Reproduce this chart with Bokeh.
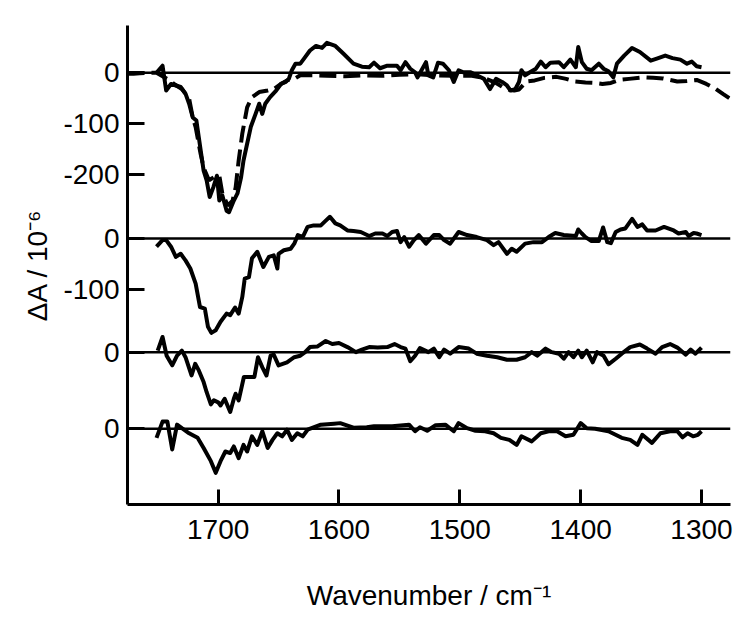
from bokeh.plotting import figure
from bokeh.models import Range1d, FixedTicker, Span
from bokeh.embed import file_html
from bokeh.resources import INLINE

# ---------------- data ----------------
# Trace A (top, solid)
wn_a = [1751, 1746, 1743, 1739, 1735, 1731, 1727, 1724, 1721, 1718, 1716, 1714, 1712, 1709.5,
        1707, 1704, 1701, 1699, 1696.5, 1693, 1691, 1687, 1684, 1681, 1679, 1676, 1673, 1669,
        1666, 1663.5, 1661, 1657, 1652, 1648, 1644, 1641.5, 1639, 1636, 1632, 1628, 1624, 1619,
        1614, 1610, 1603, 1596, 1588, 1581, 1575, 1571, 1566, 1560, 1552, 1549, 1545, 1541,
        1537, 1535, 1528, 1526, 1522, 1518, 1514, 1509, 1505, 1501, 1497, 1491, 1486, 1480,
        1475, 1470, 1465, 1461, 1458, 1454, 1451, 1449, 1446, 1442, 1437, 1433, 1429, 1425,
        1418, 1414, 1408.5, 1404, 1402, 1399, 1395, 1391, 1385, 1381, 1377, 1373, 1370, 1364,
        1357.5, 1351, 1342, 1337, 1330, 1324, 1317.5, 1312, 1308, 1304, 1300]
dA_a = [0, 14, -35, -22, -25, -28, -41, -61, -88, -94, -127, -160, -193, -212,
        -245, -226, -203, -252, -242, -272, -275, -252, -238, -206, -173, -140, -107, -81,
        -61, -81, -61, -48, -35, -22, -18, -12, 5, 18, 18, 31, 44, 53,
        49, 59, 53, 37, 18, 12, 11, 20, 9, 14, 14, 5, 21, 8,
        1, -9, 21, -5, -9, 20, 18, 5, -18, 5, 1, 1, -5, -12,
        -32, -12, -18, -25, -35, -32, -18, 5, -5, 1, 8, 22, 11, 20,
        21, 11, 26, 11, 51, 21, 8, 5, 18, 8, 3, -9, 18, 34,
        49, 41, 24, 28, 34, 29, 26, 18, 22, 13, 11]

# Trace A' (top, dashed)
wn_a2 = [1775, 1770, 1765, 1760, 1751, 1742, 1736.5, 1730, 1724, 1721, 1718.6, 1714.5, 1712,
         1707.6, 1703.5, 1699, 1696.5, 1692, 1688, 1685.5, 1683, 1680, 1676, 1672, 1666, 1659,
         1654, 1648, 1643, 1637, 1632, 1621, 1610, 1595, 1580, 1565, 1550, 1535, 1520, 1505,
         1490, 1480, 1470, 1462, 1455, 1451, 1445, 1438, 1430, 1420, 1412, 1405, 1396, 1388,
         1382, 1375, 1368, 1360, 1348, 1340, 1332, 1320, 1312, 1304, 1296, 1288, 1282, 1277]
dA_a2 = [-2, -2, -1, 0, 0, -12, -22, -32, -51, -88, -107, -160, -187,
         -212, -206, -203, -238, -262, -252, -226, -173, -120, -68, -48, -38, -35,
         -32, -22, -15, -12, -5, -5, -6, -7, -5, -6, -4, -3, -5, -6,
         -6, -10, -20, -32, -35, -33, -17, -15, -10, -8, -12, -17, -19, -20,
         -22, -20, -14, -12, -9, -10, -11, -17, -16, -14, -22, -32, -42, -50]

# Trace B
wn_b = [1751, 1746, 1743, 1739, 1735, 1731, 1727, 1723, 1718.6, 1715, 1711, 1708.4, 1705.6, 1702,
        1698, 1693, 1690, 1686, 1683, 1680, 1678, 1674.5, 1672, 1667.6, 1662.6, 1658, 1654, 1651,
        1650, 1645.6, 1640, 1637, 1634, 1630, 1626, 1621, 1615, 1612, 1607.5, 1603, 1599, 1593,
        1588, 1582, 1575, 1570, 1564, 1560, 1556, 1552, 1549, 1546, 1542, 1538, 1534, 1528,
        1521.5, 1517, 1513, 1508, 1501, 1494, 1486, 1477.5, 1472, 1468, 1461, 1457, 1453, 1446,
        1439, 1432, 1426.5, 1421, 1414, 1404, 1402, 1399, 1396, 1391, 1385, 1381.4, 1378, 1375,
        1371, 1367, 1363, 1357.4, 1353, 1349, 1345, 1338, 1331, 1323, 1319, 1313, 1310.6, 1306.5,
        1304, 1300]
dA_b = [-16, -3, -3, -16, -36, -30, -43, -59, -89, -135, -138, -174, -186, -181,
        -164, -148, -151, -136, -148, -115, -79, -76, -39, -26, -56, -36, -33, -59,
        -30, -23, -20, -10, 7, 3, 23, 26, 26, 33, 43, 30, 26, 16,
        15, 13, 5, 10, 10, 5, 13, 15, -7, 3, -16, -3, 7, -10,
        7, 7, -3, -10, 13, 7, 3, -3, -13, -7, -30, -20, -26, -10,
        -7, -7, 3, 11, 7, 5, 18, 10, 3, -5, -5, 22, -7, -9,
        13, 18, 20, 39, 23, 28, 16, 16, 23, 16, 10, 13, 5, 11,
        10, 7]

# Trace C
wn_c = [1750, 1746, 1742.6, 1738, 1734, 1730, 1727, 1722, 1719, 1716, 1712, 1709.5, 1706, 1703.5,
        1700, 1698, 1694.6, 1690, 1687, 1685.5, 1683, 1678.7, 1674.5, 1670, 1667, 1663.4, 1660,
        1656.6, 1654, 1650, 1643, 1637, 1632, 1628, 1624, 1618, 1611, 1605.5, 1600, 1593, 1586,
        1581, 1575, 1568, 1560, 1554, 1549, 1545, 1541, 1537, 1533, 1526, 1521.5, 1517, 1513,
        1508, 1501, 1492.6, 1486, 1477.5, 1469, 1461, 1453, 1446, 1440.5, 1436, 1429, 1424, 1418,
        1414, 1410, 1406, 1402, 1399, 1395, 1390, 1386.4, 1381, 1377, 1371, 1366, 1359, 1351,
        1345, 1338, 1332.6, 1326, 1320, 1313, 1309, 1305, 1300]
dA_c = [3, 30, -7, -26, -7, 3, -10, -46, -23, -36, -59, -79, -103, -95,
        -99, -105, -92, -118, -92, -82, -95, -49, -49, -49, -10, -30, -46,
        -7, -5, -26, -20, -10, -7, 0, 10, 11, 22, 16, 18, 10, 0,
        5, 10, 9, 10, 16, 10, 7, -18, -7, 8, 0, 7, -10, 5,
        -3, 10, 7, -3, -7, -10, -15, -15, -10, 0, -7, 7, 0, -3,
        -13, 0, -10, 3, -10, 3, -20, 0, -7, -24, -13, -3, 10, 15,
        7, -3, 10, 16, 9, -5, 5, -3, 9]

# Trace D (bottom)
wn_d = [1751, 1746, 1742, 1738, 1734, 1730, 1724, 1717, 1712, 1706, 1702, 1698, 1694, 1690,
        1687, 1683, 1679, 1676, 1672, 1667.6, 1663.4, 1659, 1655, 1651, 1647, 1643, 1639, 1634.5,
        1630, 1626, 1615, 1604, 1599, 1588, 1577, 1571, 1556, 1542, 1537, 1533, 1527, 1520,
        1512, 1505, 1501, 1494, 1487, 1479, 1472, 1466, 1459, 1453, 1449, 1440.5, 1433, 1426.5,
        1419.5, 1412.5, 1406, 1400, 1395, 1388, 1377, 1366, 1359, 1353, 1349, 1341, 1334, 1326,
        1320, 1315.6, 1311.5, 1307, 1303, 1300]
dA_d = [-18, 14, 14, -41, 8, 1, -9, -18, -38, -64, -87, -64, -45, -48,
        -35, -58, -32, -45, -15, -32, -5, -38, -22, -9, -15, -2, -22, -9,
        -15, -2, 8, 10, 11, 2, 3, 5, 5, 8, -5, 3, -4, 7,
        8, -5, 11, 1, -4, -5, -9, -18, -22, -32, -15, -25, -9, -5,
        -5, -15, -12, 11, 1, 0, -5, -18, -22, -32, -12, -28, -9, -5,
        -5, -17, -9, -15, -12, -5]

Y_TICK_VALUES = [0, -100, -200, 0, -100, 0, 0]
Y_TICK_TRACE = [0, 0, 0, 1, 1, 2, 3]
X_TICKS = [1700, 1600, 1500, 1400, 1300]
X_TITLE = "Wavenumber / cm\u207b\u00b9"
Y_TITLE = "\u0394A / 10\u207b\u2076"

# ---------------- layout ----------------
OFFSETS = [0, -327, -551, -702]
FONT = "Liberation Sans"

p = figure(width=745, height=622, output_backend="svg", toolbar_location=None,
           x_range=Range1d(1775, 1276), y_range=Range1d(-851.5, 93.3),
           min_border_left=127, min_border_right=15, min_border_top=25, min_border_bottom=118)
p.outline_line_color = None
p.grid.visible = False
p.background_fill_color = "white"
p.border_fill_color = "white"

for off in OFFSETS:
    p.add_layout(Span(location=off, dimension="width", line_color="black", line_width=2.5))

def shift(vals, off):
    return [v + off for v in vals]

LW = 4
p.line(wn_a, shift(dA_a, OFFSETS[0]), line_color="black", line_width=LW, line_join="round")
p.line(wn_a2, shift(dA_a2, OFFSETS[0]), line_color="black", line_width=LW, line_dash="17 7")
p.line(wn_b, shift(dA_b, OFFSETS[1]), line_color="black", line_width=LW, line_join="round")
p.line(wn_c, shift(dA_c, OFFSETS[2]), line_color="black", line_width=LW, line_join="round")
p.line(wn_d, shift(dA_d, OFFSETS[3]), line_color="black", line_width=LW, line_join="round")

# axes
yt = [v + OFFSETS[t] for v, t in zip(Y_TICK_VALUES, Y_TICK_TRACE)]
p.yaxis.ticker = FixedTicker(ticks=yt, minor_ticks=[])
p.yaxis.major_label_overrides = {float(t): str(v) for t, v in zip(yt, Y_TICK_VALUES)}
p.xaxis.ticker = FixedTicker(ticks=X_TICKS, minor_ticks=[])

for ax in (p.xaxis, p.yaxis):
    ax.axis_line_width = 3
    ax.axis_line_color = "black"
    ax.major_tick_line_width = 3
    ax.major_tick_line_color = "black"
    ax.major_tick_out = 0
    ax.minor_tick_line_color = None
    ax.major_label_text_font = FONT
    ax.major_label_text_font_size = "28px"
    ax.major_label_text_color = "black"
    ax.axis_label_text_font = FONT
    ax.axis_label_text_font_size = "28px"
    ax.axis_label_text_font_style = "normal"
    ax.axis_label_text_color = "black"
p.yaxis.major_tick_in = 17
p.yaxis.major_label_standoff = 8
p.xaxis.major_tick_in = 15
p.xaxis.major_label_standoff = 15
p.xaxis.axis_label = X_TITLE
p.yaxis.axis_label = Y_TITLE
p.xaxis.axis_label_standoff = 38
p.yaxis.axis_label_standoff = 7

open("out.html", "w").write(file_html(p, INLINE))
